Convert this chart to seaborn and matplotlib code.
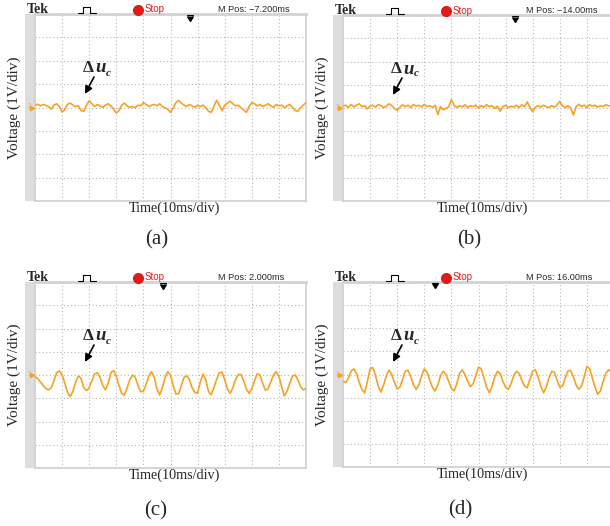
import matplotlib
matplotlib.use('Agg')
import numpy as np
import pandas as pd
import matplotlib.pyplot as plt
import seaborn as sns
from matplotlib.lines import Line2D
from matplotlib.patches import Rectangle

W, H = 610, 526

# time axis in divisions (10 ms/div), voltage in divisions (1 V/div)
time_div = [round(0.1 * i, 1) for i in range(101)]

trace_a = [0.10, 0.14, 0.07, 0.13, 0.09, 0.04, -0.07, 0.10, 0.16, 0.04,
           -0.19, -0.10, 0.14, 0.19, 0.10, 0.04, 0.07, -0.13, -0.16, 0.10,
           0.29, 0.16, 0.04, 0.13, 0.07, 0.01, 0.10, 0.16, 0.07, -0.07,
           -0.24, -0.13, 0.10, 0.19, 0.07, 0.01, 0.04, -0.01, 0.10, 0.07,
           0.21, 0.13, 0.04, 0.10, 0.13, 0.07, 0.16, 0.04, -0.01, -0.07,
           -0.21, -0.01, 0.21, 0.30, 0.19, 0.10, 0.04, 0.13, 0.07, 0.01,
           0.10, 0.04, 0.10, -0.01, -0.16, -0.21, 0.04, 0.31, 0.10, -0.14,
           0.10, 0.19, 0.27, 0.16, 0.07, 0.10, -0.01, -0.10, -0.21, 0.04,
           0.21, 0.16, 0.07, 0.13, 0.04, 0.10, 0.16, 0.07, 0.01, 0.13,
           0.07, 0.10, -0.01, 0.07, 0.13, 0.01, -0.13, -0.16, -0.01, 0.10,
           0.21]

trace_b = [0.08, 0.12, 0.02, 0.15, 0.05, 0.12, 0.18, 0.06, 0.10, -0.04,
           0.08, 0.12, 0.04, 0.15, 0.10, 0.02, 0.08, 0.18, 0.10, -0.02,
           -0.10, 0.04, 0.14, 0.06, 0.12, 0.02, 0.15, 0.08, 0.12, 0.04,
           0.16, 0.06, 0.10, 0.02, 0.12, -0.28, 0.06, -0.08, -0.02, 0.05,
           0.36, 0.12, 0.02, 0.10, 0.05, 0.14, 0.02, 0.10, 0.06, 0.12,
           0.00, 0.10, 0.04, 0.14, 0.06, 0.10, -0.02, 0.08, -0.14, 0.06,
           0.12, 0.02, 0.08, 0.04, 0.12, 0.02, 0.14, 0.06, 0.26, 0.02,
           -0.16, 0.04, 0.10, 0.04, 0.12, 0.06, 0.02, 0.10, 0.04, 0.14,
           0.28, 0.08, 0.02, 0.10, 0.00, -0.30, 0.04, 0.16, 0.06, 0.12,
           0.02, 0.14, 0.08, 0.12, 0.04, 0.10, 0.06, 0.14, 0.10, 0.08,
           0.12]

trace_c = [-0.07, -0.15, -0.30, -0.45, -0.58, -0.64, -0.55, -0.25, 0.10, 0.18,
           0.00, -0.35, -0.75, -0.93, -0.70, -0.30, -0.04, -0.15, -0.55, -0.67,
           -0.55, -0.25, 0.05, 0.10, -0.10, -0.45, -0.64, -0.35, 0.10, 0.19,
           -0.05, -0.45, -0.80, -0.86, -0.55, -0.20, 0.00, -0.10, -0.45, -0.72,
           -0.70, -0.40, -0.05, 0.14, -0.10, -0.60, -0.86, -0.55, -0.10, 0.14,
           0.00, -0.45, -0.82, -0.80, -0.45, -0.10, -0.04, -0.20, -0.55, -0.75,
           -0.78, -0.30, 0.04, -0.20, -0.70, -0.85, -0.55, -0.20, 0.10, 0.12,
           -0.20, -0.60, -0.79, -0.55, -0.20, 0.02, 0.02, -0.25, -0.60, -0.79,
           -0.60, -0.25, 0.05, 0.00, -0.35, -0.65, -0.60, -0.30, 0.00, 0.14,
           -0.05, -0.50, -0.90, -0.70, -0.35, -0.05, 0.00, -0.20, -0.50, -0.64,
           -0.58]

trace_d = [-0.29, -0.35, -0.15, 0.15, 0.24, 0.05, -0.35, -0.65, -0.79, -0.30,
           0.25, 0.30, -0.05, -0.50, -0.76, -0.45, -0.05, 0.19, 0.00, -0.35,
           -0.62, -0.55, -0.20, 0.15, 0.18, -0.10, -0.45, -0.64, -0.45, -0.05,
           0.24, 0.10, -0.25, -0.55, -0.71, -0.45, -0.05, 0.14, 0.00, -0.30,
           -0.60, -0.71, -0.40, 0.05, 0.20, 0.00, -0.30, -0.53, -0.40, -0.05,
           0.32, 0.25, -0.15, -0.55, -0.79, -0.50, -0.10, 0.14, 0.05, -0.30,
           -0.55, -0.64, -0.40, -0.05, 0.14, 0.05, -0.25, -0.50, -0.57, -0.20,
           0.15, 0.20, -0.10, -0.50, -0.79, -0.55, -0.15, 0.14, 0.10, -0.25,
           -0.55, -0.50, -0.15, 0.15, 0.18, -0.10, -0.45, -0.64, -0.50, -0.10,
           0.35, 0.25, -0.15, -0.55, -0.86, -0.70, -0.30, 0.05, 0.21, 0.10,
           -0.10]

traces = [trace_a, trace_b, trace_c, trace_d]
panel_labels = ['(a)', '(b)', '(c)', '(d)']
mpos_labels = ['M Pos: \u22127.200ms', 'M Pos: \u221214.00ms',
               'M Pos: 2.000ms', 'M Pos: 16.00ms']
trigger_pos = [5.72, 6.35, 4.72, 3.39]
x_label = 'Time(10ms/div)'
y_label = 'Voltage (1V/div)'

sns.set_style('white')
plt.rcParams['font.family'] = ['Liberation Serif', 'DejaVu Serif']

ORANGE = '#f7a224'
GRID = '#b8b8b8'
FRAME = '#d2d2d2'

fig = plt.figure(figsize=(W / 100, H / 100), dpi=100)


def fx(x):
    return x / W


def fy(y):
    return 1 - y / H


# screen rectangles in pixels: left, top, width, height
screens = [(35, 14, 271, 187), (343, 15, 271, 186),
           (35, 282, 271, 186), (343, 282, 271, 185)]
label_pos = [(157, 240), (469, 240), (156, 511), (460, 510)]

for i in range(4):
    L, T, Wd, Ht = screens[i]
    # grey side strip of the scope screen
    fig.add_artist(Rectangle((fx(L - 10), fy(T + Ht)), 10 / W, Ht / H,
                             transform=fig.transFigure, facecolor='#dddddd',
                             edgecolor='none', zorder=0))
    ax = fig.add_axes([fx(L), fy(T + Ht), Wd / W, Ht / H])
    df = pd.DataFrame({'t': time_div, 'v': traces[i]})
    sns.lineplot(data=df, x='t', y='v', ax=ax, color=ORANGE, lw=1.2, zorder=3)
    ax.set_xlim(0, 10)
    ax.set_ylim(-4, 4)
    for k in range(1, 10):
        ax.axvline(k, color=GRID, ls=(0, (1, 2.2)), lw=0.8, zorder=1)
    for k in range(-3, 4):
        ax.axhline(k, color=GRID, ls=(0, (1, 2.2)), lw=0.8, zorder=1)
    ax.set_xticks([])
    ax.set_yticks([])
    ax.set_xlabel('')
    ax.set_ylabel('')
    for side, sp in ax.spines.items():
        sp.set_color(FRAME)
        sp.set_linewidth(2.0 if side == 'top' else 1.3)
    # trigger position marker
    ax.plot([trigger_pos[i]], [3.72], marker=7, color='black', ms=5,
            clip_on=False, zorder=5)
    ax.plot([trigger_pos[i] - 0.12, trigger_pos[i] + 0.12], [3.95, 3.95],
            color='black', lw=0.8, clip_on=False, zorder=5)
    # ground marker
    ax.plot([-0.12], [0], marker='>', color=ORANGE, ms=3, clip_on=False, zorder=5)
    fig.text(fx(L - 8), fy(T + Ht / 2 - 0.5), '1', color=ORANGE, fontsize=5,
             family='Liberation Sans', ha='left', va='center', zorder=6)

    # header
    hy = T - 4.5
    fig.text(fx(L - 8), fy(hy), 'Tek', fontsize=10, fontweight='bold',
             ha='left', va='center')
    px = [L + 43, L + 48, L + 48, L + 55, L + 55, L + 61]
    py = [hy + 3, hy + 3, hy - 3, hy - 3, hy + 3, hy + 3]
    fig.add_artist(Line2D([fx(v) for v in px], [fy(v) for v in py],
                          transform=fig.transFigure, color='black', lw=0.8))
    fig.add_artist(Line2D([fx(L + 102.5)], [fy(hy)], marker='o', ms=7,
                          color='#e01b1b', transform=fig.transFigure))
    fig.text(fx(L + 110), fy(hy), 'Stop', fontsize=7, color='#e01b1b',
             family='Liberation Sans', ha='left', va='center')
    fig.text(fx(L + 183), fy(hy), mpos_labels[i], fontsize=6.6,
             family='Liberation Sans', ha='left', va='center')

    # delta u_c annotation
    fig.text(fx(L + 48), fy(T + 54), '\u0394', fontsize=12.5, fontweight='bold',
             ha='left', va='center')
    fig.text(fx(L + 60), fy(T + 54), 'u', fontsize=13.5, fontweight='bold',
             style='italic', ha='left', va='center')
    fig.text(fx(L + 71), fy(T + 59), 'c', fontsize=8, fontweight='bold',
             style='italic', ha='left', va='center')
    fig.add_artist(plt.Annotation('', xy=(fx(L + 50), fy(T + 80)),
                                  xytext=(fx(L + 59), fy(T + 63)),
                                  xycoords='figure fraction',
                                  textcoords='figure fraction',
                                  arrowprops=dict(arrowstyle='-|>', color='black',
                                                  lw=1.2, mutation_scale=11,
                                                  shrinkA=0, shrinkB=0)))

    # axis labels
    fig.text(fx(L - 21), fy(T + Ht / 2), y_label, rotation=90, fontsize=11,
             ha='center', va='center')
    fig.text(fx(L + 139), fy(T + Ht + 7), x_label, fontsize=10.2,
             ha='center', va='center')
    fig.text(fx(label_pos[i][0]), fy(label_pos[i][1]), panel_labels[i],
             fontsize=15, ha='center', va='center')

fig.savefig('out.png', dpi=100)
